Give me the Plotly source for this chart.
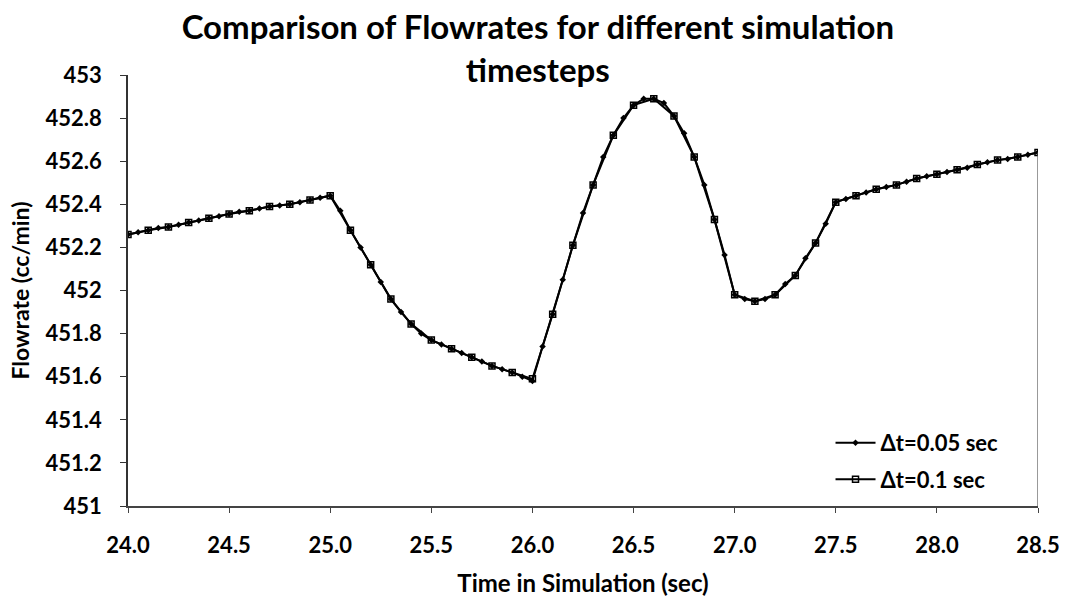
import plotly.graph_objects as go

# Time points (sec)
time_01 = [24.0, 24.1, 24.2, 24.3, 24.4, 24.5, 24.6, 24.7, 24.8, 24.9,
           25.0, 25.1, 25.2, 25.3, 25.4, 25.5, 25.6, 25.7, 25.8, 25.9,
           26.0, 26.1, 26.2, 26.3, 26.4, 26.5, 26.6, 26.7, 26.8, 26.9,
           27.0, 27.1, 27.2, 27.3, 27.4, 27.5, 27.6, 27.7, 27.8, 27.9,
           28.0, 28.1, 28.2, 28.3, 28.4, 28.5]
flow_01 = [452.26, 452.28, 452.295, 452.315, 452.335, 452.355, 452.37, 452.39, 452.40, 452.42,
           452.44, 452.28, 452.12, 451.96, 451.845, 451.77, 451.73, 451.69, 451.65, 451.62,
           451.59, 451.89, 452.21, 452.49, 452.72, 452.86, 452.89, 452.81, 452.62, 452.33,
           451.98, 451.95, 451.98, 452.07, 452.22, 452.41, 452.44, 452.47, 452.49, 452.52,
           452.54, 452.56, 452.585, 452.605, 452.62, 452.64]

time_005 = [24.00, 24.05, 24.10, 24.15, 24.20, 24.25, 24.30, 24.35, 24.40, 24.45,
            24.50, 24.55, 24.60, 24.65, 24.70, 24.75, 24.80, 24.85, 24.90, 24.95,
            25.00, 25.05, 25.10, 25.15, 25.20, 25.25, 25.30, 25.35, 25.40, 25.45,
            25.50, 25.55, 25.60, 25.65, 25.70, 25.75, 25.80, 25.85, 25.90, 25.95,
            26.00, 26.05, 26.10, 26.15, 26.20, 26.25, 26.30, 26.35, 26.40, 26.45,
            26.50, 26.55, 26.60, 26.65, 26.70, 26.75, 26.80, 26.85, 26.90, 26.95,
            27.00, 27.05, 27.10, 27.15, 27.20, 27.25, 27.30, 27.35, 27.40, 27.45,
            27.50, 27.55, 27.60, 27.65, 27.70, 27.75, 27.80, 27.85, 27.90, 27.95,
            28.00, 28.05, 28.10, 28.15, 28.20, 28.25, 28.30, 28.35, 28.40, 28.45,
            28.50]
flow_005 = [452.26, 452.27, 452.28, 452.29, 452.295, 452.305, 452.315, 452.325, 452.335, 452.345,
            452.355, 452.365, 452.37, 452.38, 452.39, 452.395, 452.40, 452.41, 452.42, 452.43,
            452.44, 452.37, 452.28, 452.20, 452.12, 452.04, 451.96, 451.90, 451.845, 451.80,
            451.77, 451.75, 451.73, 451.71, 451.69, 451.67, 451.65, 451.635, 451.62, 451.60,
            451.58, 451.74, 451.89, 452.05, 452.21, 452.36, 452.49, 452.62, 452.72, 452.80,
            452.86, 452.89, 452.89, 452.87, 452.81, 452.73, 452.62, 452.49, 452.33, 452.165,
            451.98, 451.96, 451.95, 451.96, 451.98, 452.03, 452.07, 452.15, 452.22, 452.31,
            452.41, 452.425, 452.44, 452.455, 452.47, 452.48, 452.49, 452.505, 452.52, 452.53,
            452.54, 452.55, 452.56, 452.57, 452.585, 452.595, 452.605, 452.61, 452.62, 452.63,
            452.64]

x_ticks = [24.0, 24.5, 25.0, 25.5, 26.0, 26.5, 27.0, 27.5, 28.0, 28.5]
x_labels = ["24.0", "24.5", "25.0", "25.5", "26.0", "26.5", "27.0", "27.5", "28.0", "28.5"]
y_ticks = [451, 451.2, 451.4, 451.6, 451.8, 452, 452.2, 452.4, 452.6, 452.8, 453]
y_labels = ["451", "451.2", "451.4", "451.6", "451.8", "452", "452.2", "452.4", "452.6", "452.8", "453"]

FONT = "Lato"
y_min, y_max = y_ticks[0], y_ticks[-1]

fig = go.Figure()

fig.add_trace(go.Scatter(
    x=time_005, y=flow_005, mode="lines+markers", name="<b>Δt=0.05 sec</b>", legendgroup="a",
    line=dict(color="black", width=2),
    marker=dict(symbol="diamond", size=5, color="black"),
))
fig.add_trace(go.Scatter(
    x=time_01, y=flow_01, mode="lines+markers", name="<b>Δt=0.1 sec</b>", legendgroup="b",
    line=dict(color="black", width=2),
    marker=dict(symbol="square-open", size=6, color="black", line=dict(width=1.5)),
))
# drop line at the last time point
fig.add_trace(go.Scatter(
    x=[time_01[-1], time_01[-1]], y=[y_min, flow_01[-1]], mode="lines",
    line=dict(color="#555555", width=1.2), showlegend=False, hoverinfo="skip",
))

fig.update_layout(
    width=1065, height=598,
    margin=dict(l=128, r=27, t=75, b=92),
    paper_bgcolor="white", plot_bgcolor="white",
    font=dict(family=FONT, color="black"),
    title=dict(
        text="<b>Comparison of Flowrates for different simulation<br>timesteps</b>",
        x=0.505, xanchor="center", yref="container", y=0.935, yanchor="middle",
        font=dict(family=FONT, size=33, color="black"),
    ),
    showlegend=True,
    legend=dict(
        x=0.772, y=0.195, xanchor="left", yanchor="top",
        bgcolor="rgba(255,255,255,0)",
        font=dict(family=FONT, size=22, color="black"),
        itemwidth=40, tracegroupgap=5,
    ),
)

fig.update_xaxes(
    range=[x_ticks[0], x_ticks[-1]],
    automargin=False,
    tickmode="array", tickvals=x_ticks, ticktext=["<b>%s</b>" % t for t in x_labels],
    tickfont=dict(family=FONT, size=22, color="black"),
    ticklabelstandoff=14,
    showgrid=False, zeroline=False,
    showline=True, linecolor="#444444", linewidth=1.5,
    ticks="outside", ticklen=5, tickcolor="#444444",
    title=dict(text="<b>Time in Simulation (sec)</b>", font=dict(family=FONT, size=24, color="black"), standoff=18),
)
fig.update_yaxes(
    range=[y_min, y_max],
    automargin=False,
    tickmode="array", tickvals=y_ticks, ticktext=["<b>%s</b>" % t for t in y_labels],
    tickfont=dict(family=FONT, size=22, color="black"),
    ticklabelstandoff=14,
    showgrid=False, zeroline=False,
    showline=True, linecolor="#333333", linewidth=1.5,
    ticks="outside", ticklen=6, tickcolor="#333333",
    title=dict(text="<b>Flowrate (cc/min)</b>", font=dict(family=FONT, size=23, color="black"), standoff=10),
)

fig.write_html("out.html")
